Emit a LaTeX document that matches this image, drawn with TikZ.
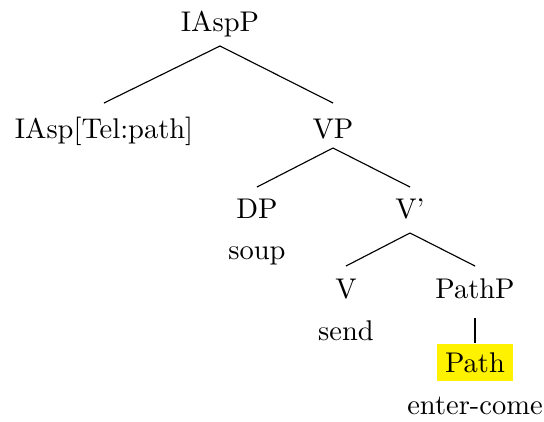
\documentclass[tikz,border=0pt]{standalone}
\usetikzlibrary{calc}
\definecolor{hl}{RGB}{255,242,0}
\begin{document}
\begin{tikzpicture}[x=0.351pt,y=-0.351pt,
  lab/.style={anchor=base,inner sep=0pt,font=\fontsize{10}{12}\selectfont},
  edge/.style={draw=black,line width=0.4pt}]
\useasboundingbox (0,0) rectangle (544,421);
\node[lab] (iaspp) at (220,31) {IAspP};
\node[lab] (iasp) at (104,138) {IAsp[Tel:path]};
\node[lab] (vp) at (333,138) {VP};
\node[lab] (dp) at (257,218) {DP};
\node[lab] (soup) at (257,259) {soup};
\node[lab] (vbar) at (410,218) {V'};
\node[lab] (v) at (346,298) {V};
\node[lab] (send) at (346,340) {send};
\node[lab] (pathp) at (475,298) {PathP};
\node[lab,fill=hl,inner sep=3pt,text depth=0pt] (path) at (475,372) {Path};
\node[lab] (ec) at (475,414) {enter-come};
\draw[edge] ($(iaspp.base)+(0,15)$) -- ($(iasp.base)+(0,-35)$);
\draw[edge] ($(iaspp.base)+(0,15)$) -- ($(vp.base)+(0,-35)$);
\draw[edge] ($(vp.base)+(0,10)$) -- ($(dp.base)+(0,-31)$);
\draw[edge] ($(vp.base)+(0,10)$) -- ($(vbar.base)+(0,-31)$);
\draw[edge] ($(vbar.base)+(0,15)$) -- ($(v.base)+(0,-32)$);
\draw[edge] ($(vbar.base)+(0,15)$) -- ($(pathp.base)+(0,-32)$);
\draw[edge] ($(pathp.base)+(0,20)$) -- (path.north);
\end{tikzpicture}
\end{document}
